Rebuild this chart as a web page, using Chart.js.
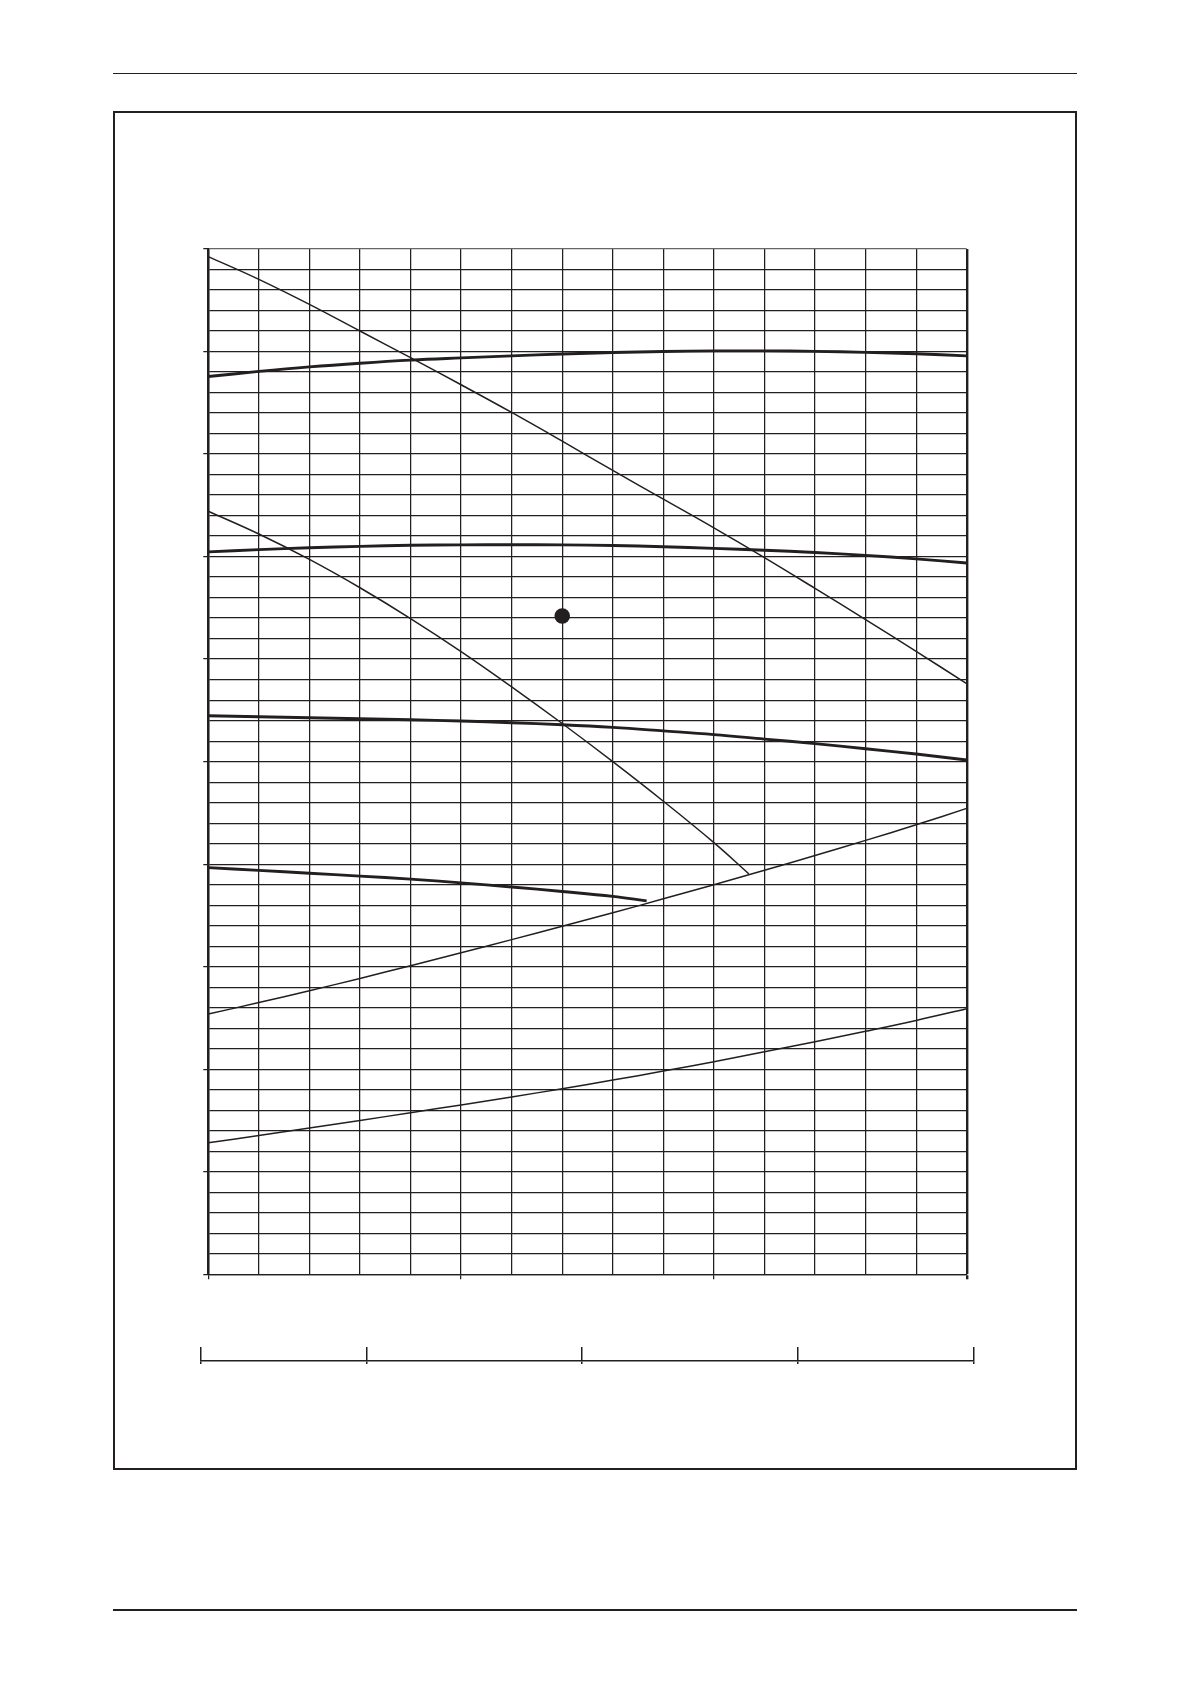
<!DOCTYPE html>
<html>
<head>
<meta charset="utf-8">
<script src="https://cdn.jsdelivr.net/npm/chart.js@4.4.1/dist/chart.umd.min.js"></script>
<style>
html,body{margin:0;padding:0;background:#fff;}
body{width:1191px;height:1684px;position:relative;overflow:hidden;}
.rule{position:absolute;background:#231f20;}
#frame{position:absolute;left:113.3px;top:111.3px;width:959.3px;height:1355px;border:2.2px solid #231f20;}
canvas{position:absolute;left:0;}
</style>
</head>
<body>
<div class="rule" style="left:113px;top:72.5px;width:964px;height:1.6px"></div>
<div id="frame"></div>
<div class="rule" style="left:113px;top:1609px;width:964px;height:2px"></div>
<canvas id="main" width="1191" height="1400" style="top:0"></canvas>
<canvas id="sec" width="1191" height="60" style="top:1320px"></canvas>
<script>
// ---- data (grid units) ----
const flowX  = [0,1,2,3,4,5,6,7,8,9,10,11,12,13,14,15];
const curveA = [49.63,48.52,47.3,46.0,44.7,43.38,42.03,40.63,39.2,37.8,36.4,34.95,33.45,31.93,30.38,28.8];
const curveB = [43.78,44.03,44.25,44.43,44.58,44.69,44.79,44.88,44.95,45.0,45.03,45.03,45.01,44.96,44.89,44.79];
const curveC = [35.23,35.34,35.43,35.5,35.55,35.57,35.58,35.57,35.54,35.48,35.4,35.31,35.2,35.06,34.89,34.69];
const curveDX = [0,1,2,3,4,5,6,7,8,9,10,10.69];
const curveD  = [37.21,36.1,34.86,33.48,31.98,30.37,28.65,26.86,25.0,23.07,21.05,19.53];
const curveE = [27.24,27.19,27.14,27.09,27.04,26.98,26.9,26.8,26.67,26.5,26.32,26.1,25.88,25.63,25.37,25.08];
const curveFX = [0,1,2,3,4,5,6,7,8,8.67];
const curveF  = [19.83,19.7,19.56,19.42,19.27,19.09,18.89,18.67,18.43,18.21];
const curveG = [12.69,13.25,13.83,14.43,15.05,15.68,16.32,16.97,17.63,18.31,19.0,19.7,20.42,21.16,21.92,22.72];
const curveH = [6.41,6.77,7.13,7.5,7.88,8.26,8.65,9.05,9.47,9.91,10.37,10.85,11.34,11.85,12.38,12.95];
const dutyPoint = [{x:7, y:32.1}];
const xMin = 0, xMax = 15, yMin = 0, yMax = 50, majorEvery = 5;
const secTicks = [0.2304, 1, 2, 3, 3.8175];

const INK = '#231f20';
const pts = (xs, ys) => ys.map((y, i) => ({x: xs[i], y}));
const thin = (xs, ys) => ({data: pts(xs, ys), borderColor: INK, borderWidth: 1.5, pointRadius: 0, fill: false, tension: 0.4});
const thick = (xs, ys) => ({data: pts(xs, ys), borderColor: INK, borderWidth: 2.9, pointRadius: 0, fill: false, tension: 0.4});

new Chart(document.getElementById('main'), {
  type: 'line',
  data: {
    datasets: [
      thin(flowX, curveA),
      thick(flowX, curveB),
      thick(flowX, curveC),
      thin(curveDX, curveD),
      thick(flowX, curveE),
      thick(curveFX, curveF),
      thin(flowX, curveG),
      thin(flowX, curveH),
      {data: dutyPoint, showLine: false, pointRadius: 7.8, pointBackgroundColor: INK, pointBorderColor: INK, pointBorderWidth: 0}
    ]
  },
  options: {
    responsive: false,
    animation: false,
    devicePixelRatio: 1,
    layout: {padding: {left: 203.3, right: 224.3, top: 249, bottom: 120.7}},
    plugins: {legend: {display: false}, tooltip: {enabled: false}},
    scales: {
      x: {
        type: 'linear', min: xMin, max: xMax,
        ticks: {display: false, stepSize: 1, autoSkip: false},
        afterFit: s => { s.height = 5; },
        grid: {
          color: INK,
          lineWidth: c => (c.tick && c.tick.value === xMax) ? 2.4 : 1.25,
          tickLength: 5,
          tickColor: c => (c.tick && c.tick.value % majorEvery === 0) ? INK : 'rgba(0,0,0,0)'
        },
        border: {display: true, color: INK, width: 1.3}
      },
      y: {
        type: 'linear', min: yMin, max: yMax,
        ticks: {display: false, stepSize: 1, autoSkip: false},
        afterFit: s => { s.width = 5; },
        grid: {
          color: c => (c.tick && c.tick.value === yMax) ? '#666' : INK,
          lineWidth: 1.25,
          tickLength: 5,
          tickColor: c => (c.tick && c.tick.value % majorEvery === 0) ? INK : 'rgba(0,0,0,0)'
        },
        border: {display: true, color: INK, width: 2.4}
      }
    }
  }
});

// secondary flow scale below the chart
new Chart(document.getElementById('sec'), {
  type: 'line',
  data: {datasets: []},
  options: {
    responsive: false,
    animation: false,
    devicePixelRatio: 1,
    layout: {padding: {left: 201, right: 217.7, top: 27, bottom: 16}},
    plugins: {legend: {display: false}, tooltip: {enabled: false}},
    scales: {
      x: {
        type: 'linear', position: 'top', min: secTicks[0], max: secTicks[secTicks.length - 1],
        ticks: {display: false},
        afterBuildTicks: s => { s.ticks = secTicks.map(v => ({value: v})); },
        afterFit: s => { s.height = 14; },
        grid: {color: INK, lineWidth: 1.5, tickLength: 14, tickColor: INK, drawOnChartArea: true},
        border: {display: true, color: INK, width: 1.4}
      },
      y: {display: false, min: 0, max: 1}
    }
  }
});
</script>
</body>
</html>
